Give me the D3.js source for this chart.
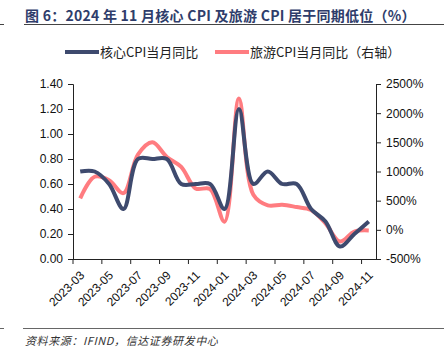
<!DOCTYPE html>
<html><head><meta charset="utf-8">
<script src="https://cdn.jsdelivr.net/npm/d3@7"></script>
<style>body{margin:0;background:#fff}svg{display:block}</style>
</head><body>
<script>
const months = ["2023-03","2023-04","2023-05","2023-06","2023-07","2023-08","2023-09","2023-10","2023-11","2023-12","2024-01","2024-02","2024-03","2024-04","2024-05","2024-06","2024-07","2024-08","2024-09","2024-10","2024-11"];
const coreCPI = [0.7,0.7,0.6,0.4,0.8,0.8,0.8,0.6,0.6,0.6,0.4,1.2,0.6,0.7,0.6,0.6,0.4,0.3,0.1,0.2,0.3];
const tourismCPI = [540,910,850,630,1290,1500,1250,1080,710,700,140,2250,600,420,430,390,340,110,-200,-30,-10];
const leftTicks = [0,0.2,0.4,0.6,0.8,1.0,1.2,1.4];
const rightTicks = [-500,0,500,1000,1500,2000,2500];
const seriesNames = ["核心CPI当月同比","旅游CPI当月同比（右轴）"];
const colors = ["#3e4a6e","#ff7c80"];

const W=444,H=359;
const svg=d3.select("body").append("svg").attr("width",W).attr("height",H);
const font="Liberation Sans, Arial, sans-serif";
const titleColor="#2f3d6b";

// title
svg.append("text").attr("x",25).attr("y",21).attr("font-family","Noto Sans CJK SC, sans-serif")
  .attr("font-size",14).attr("font-weight","bold").attr("fill",titleColor).attr("letter-spacing","0.25px")
  .text("图 6：2024 年 11 月核心 CPI 及旅游 CPI 居于同期低位（%）");
svg.append("line").attr("x1",24).attr("x2",444).attr("y1",24.5).attr("y2",24.5).attr("stroke","#444").attr("stroke-width",1);
svg.append("line").attr("x1",0).attr("x2",4).attr("y1",24.5).attr("y2",24.5).attr("stroke","#444").attr("stroke-width",1);

// footer
svg.append("line").attr("x1",23).attr("x2",444).attr("y1",328.5).attr("y2",328.5).attr("stroke","#666").attr("stroke-width",1);
svg.append("line").attr("x1",0).attr("x2",4).attr("y1",328.5).attr("y2",328.5).attr("stroke","#666").attr("stroke-width",1);
svg.append("text").attr("x",25).attr("y",345).attr("font-family","Noto Sans CJK SC, sans-serif")
  .attr("font-size",11).attr("font-style","italic").attr("fill","#333").attr("letter-spacing","0.6px")
  .text("资料来源：IFIND，信达证券研发中心");

const x0=73,x1=376,yTop=84,yBot=259;
const x=d3.scaleBand().domain(months).range([x0,x1]);
const yL=d3.scaleLinear().domain([0,1.4]).range([yBot,yTop]);
const yR=d3.scaleLinear().domain([-500,2500]).range([yBot,yTop]);

const gL=svg.append("g").attr("transform",`translate(${x0},0)`)
  .call(d3.axisLeft(yL).tickValues(leftTicks).tickFormat(d3.format(".2f")).tickSize(5).tickPadding(5));
const gR=svg.append("g").attr("transform",`translate(${x1},0)`)
  .call(d3.axisRight(yR).tickValues(rightTicks).tickFormat(d=>d+"%").tickSize(5).tickPadding(5));
const evenMonths=months.filter((d,i)=>i%2===0);
const gB=svg.append("g").attr("transform",`translate(0,${yBot})`)
  .call(d3.axisBottom(x).tickValues(evenMonths).tickSize(5).tickSizeOuter(0));
gB.selectAll(".tick line").attr("x1",-x.bandwidth()/2).attr("x2",-x.bandwidth()/2);
gB.selectAll(".tick text").attr("text-anchor","end").attr("x",0).attr("y",0).attr("dy","0.35em")
  .attr("transform","translate(2,14) rotate(-45)");
[gL,gR,gB].forEach(g=>{
  g.selectAll("text").attr("font-family",font).attr("font-size",12).attr("fill","#111");
  g.selectAll("line,path").attr("stroke","#222");
});
gB.select(".domain").attr("d",`M${x0},0.5H${x1}`);

const cx=d=>x(d)+x.bandwidth()/2;
const lineL=d3.line().x((d,i)=>cx(months[i])).y(d=>yL(d)).curve(d3.curveCatmullRom.alpha(0.5));
const lineR=d3.line().x((d,i)=>cx(months[i])).y(d=>yR(d)).curve(d3.curveCatmullRom.alpha(0.5));
svg.append("path").datum(tourismCPI).attr("d",lineR).attr("fill","none").attr("stroke",colors[1]).attr("stroke-width",4).attr("stroke-linejoin","round");
svg.append("path").datum(coreCPI).attr("d",lineL).attr("fill","none").attr("stroke",colors[0]).attr("stroke-width",4).attr("stroke-linejoin","round");

const leg=[{x:65,name:seriesNames[0],c:colors[0]},{x:215,name:seriesNames[1],c:colors[1]}];
leg.forEach(l=>{
  svg.append("line").attr("x1",l.x).attr("x2",l.x+34).attr("y1",52).attr("y2",52).attr("stroke",l.c).attr("stroke-width",4);
  svg.append("text").attr("x",l.x+35).attr("y",57).attr("font-family","Noto Sans CJK SC, sans-serif").attr("font-size",13).attr("fill","#222").text(l.name);
});
</script>
</body></html>
